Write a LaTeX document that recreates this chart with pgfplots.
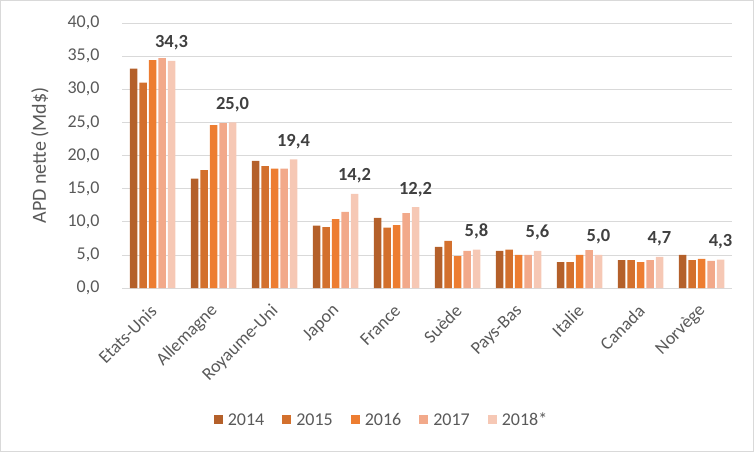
\documentclass[border=0pt]{standalone}
\usepackage{fontspec}
\setmainfont{Carlito}
\usepackage{pgfplots}
\pgfplotsset{compat=1.18}
\definecolor{c14}{HTML}{B4602A}
\definecolor{c15}{HTML}{D3702D}
\definecolor{c16}{HTML}{ED7D31}
\definecolor{c17}{HTML}{F2A98A}
\definecolor{c18}{HTML}{F6C8B5}
\definecolor{txt}{HTML}{595959}
\definecolor{lbl}{HTML}{404040}
\definecolor{grd}{HTML}{D9D9D9}

\begin{document}
\begin{tikzpicture}
\useasboundingbox (0,0) rectangle (754pt,452pt);
\draw[grd, line width=1pt] (0.5pt,0.5pt) rectangle (753.5pt,451.5pt);
\begin{axis}[
    at={(122pt,164pt)}, anchor=south west,
    scale only axis, width=610pt, height=265pt,
    ybar=2pt, bar width=7.5pt,
    xmin=-0.5, xmax=9.5, ymin=0, ymax=40,
    xtick={0,...,9},
    xticklabels={Etats-Unis,Allemagne,Royaume-Uni,Japon,France,Suède,Pays-Bas,Italie,Canada,Norvège},
    ytick={0,5,...,40},
    major tick length=0pt,
    ymajorgrids, grid style={grd, line width=0.75pt},
    axis x line*=bottom, axis y line*=left,
    x axis line style={grd, line width=0.75pt, -},
    y axis line style={draw=none},
    tick label style={font=\fontsize{18}{21}\selectfont, text=txt},
    /pgf/number format/fixed, /pgf/number format/fixed zerofill,
    /pgf/number format/precision=1, /pgf/number format/use comma,
    /pgf/number format/assume math mode=true,
    yticklabel style={anchor=east, xshift=-19pt},
    xticklabel style={rotate=45, anchor=east, xshift=-10pt, yshift=-15pt},
    ylabel={APD nette (Md\$)},
    ylabel style={at={(axis description cs:-0.1344,0.5)}, anchor=center,
        font=\fontsize{20}{24}\selectfont, text=txt},
    clip=false,
    legend columns=5,
    legend style={at={(axis description cs:0.4255,-0.498)}, anchor=center,
        draw=none, fill=none, font=\fontsize{18}{21}\selectfont, text=txt,
        /tikz/every even column/.append style={column sep=16pt}},
    every axis plot post/.append style={
        legend image code/.code={\fill[##1] (0pt,-4.5pt) rectangle (9pt,4.5pt);
            \path (0pt,0pt) (12pt,0pt);}},
]
% 2014
\addplot[fill=c14, draw=none] coordinates {(0,33.1) (1,16.5) (2,19.2) (3,9.4) (4,10.6) (5,6.2) (6,5.6) (7,3.9) (8,4.2) (9,5.0)};
% 2015
\addplot[fill=c15, draw=none] coordinates {(0,31.0) (1,17.8) (2,18.4) (3,9.2) (4,9.1) (5,7.1) (6,5.8) (7,3.9) (8,4.2) (9,4.2)};
% 2016
\addplot[fill=c16, draw=none] coordinates {(0,34.4) (1,24.6) (2,18.0) (3,10.4) (4,9.5) (5,4.8) (6,5.0) (7,5.0) (8,3.9) (9,4.4)};
% 2017
\addplot[fill=c17, draw=none] coordinates {(0,34.7) (1,24.9) (2,18.0) (3,11.5) (4,11.3) (5,5.6) (6,5.0) (7,5.7) (8,4.2) (9,4.1)};
% 2018* avec étiquettes
\addplot[fill=c18, draw=none, nodes near coords,
    every node near coord/.append style={anchor=south, yshift=7pt, text=lbl,
        font=\bfseries\fontsize{18.5}{22}\selectfont}]
    coordinates {(0,34.3) (1,25.0) (2,19.4) (3,14.2) (4,12.2) (5,5.8) (6,5.6) (7,5.0) (8,4.7) (9,4.3)};
\legend{2014,2015,2016,2017,2018*}
\end{axis}
\end{tikzpicture}
\end{document}
